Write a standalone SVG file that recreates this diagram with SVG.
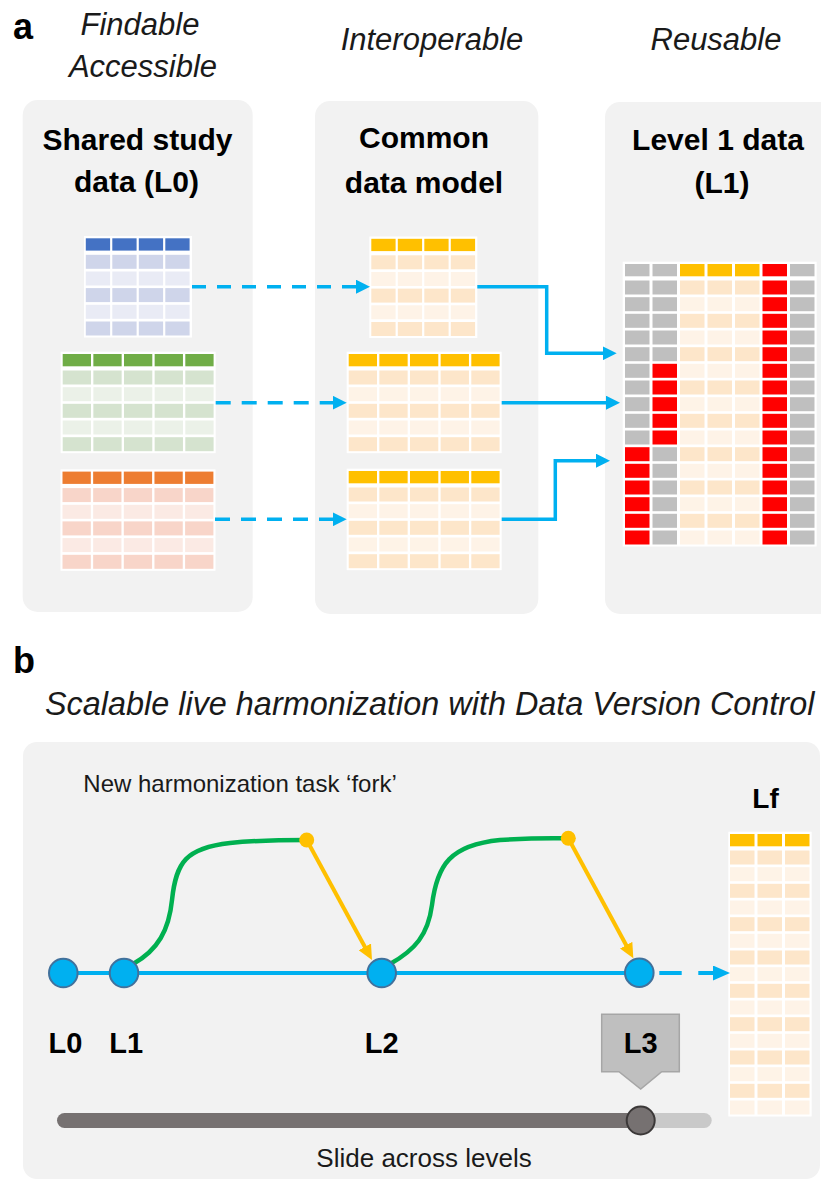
<svg xmlns="http://www.w3.org/2000/svg" xmlns:xlink="http://www.w3.org/1999/xlink" width="821" height="1182" viewBox="0 0 821 1182">
<style>
text{font-family:"Liberation Sans",Arial,sans-serif}
.lbl{font-weight:bold;font-size:36px;fill:#000}
.it{font-style:italic;font-size:31px;fill:#1a1a1a;text-anchor:middle}
.tt{font-weight:bold;font-size:30px;fill:#000;text-anchor:middle}
.lv{font-weight:bold;font-size:29px;fill:#000;text-anchor:middle}
.panel{fill:#f2f2f2}
.tbl{fill:#fff}
.dash{fill:none;stroke:#00b0f0;stroke-width:3.5}
.solid{fill:none;stroke:#00b0f0;stroke-width:3.5}
.grn{fill:none;stroke:#00b050;stroke-width:4.5}
.yl{fill:none;stroke:#ffc000;stroke-width:4}
.node{fill:#00b0f0;stroke:#41719c;stroke-width:2}
</style>
<defs>
<marker id="ab" viewBox="0 0 14 14" refX="6" refY="7" markerWidth="14" markerHeight="14" markerUnits="userSpaceOnUse" orient="auto"><path d="M0,0 L14,7 L0,14 Z" fill="#00b0f0"/></marker>
<marker id="ab2" viewBox="0 0 17 15" refX="9" refY="7.5" markerWidth="17" markerHeight="15" markerUnits="userSpaceOnUse" orient="auto"><path d="M0,0 L17,7.5 L0,15 Z" fill="#00b0f0"/></marker>
<marker id="ay" viewBox="0 0 15 14" refX="7" refY="7" markerWidth="15" markerHeight="14" markerUnits="userSpaceOnUse" orient="auto"><path d="M0,0 L15,7 L0,14 Z" fill="#ffc000"/></marker>
<g id="h4"><rect width="24.3" height="12.3"/><rect x="26.5" width="24.3" height="12.3"/><rect x="53" width="24.3" height="12.3"/><rect x="79.5" width="24.3" height="12.3"/></g>
<g id="d4"><rect width="24.3" height="14"/><rect x="26.5" width="24.3" height="14"/><rect x="53" width="24.3" height="14"/><rect x="79.5" width="24.3" height="14"/></g>
<g id="h5"><rect width="28.3" height="12.3"/><rect x="30.65" width="28.3" height="12.3"/><rect x="61.3" width="28.3" height="12.3"/><rect x="91.95" width="28.3" height="12.3"/><rect x="122.6" width="28.3" height="12.3"/></g>
<g id="d5"><rect width="28.3" height="14"/><rect x="30.65" width="28.3" height="14"/><rect x="61.3" width="28.3" height="14"/><rect x="91.95" width="28.3" height="14"/><rect x="122.6" width="28.3" height="14"/></g>
<g id="h3"><rect width="24.5" height="12.3"/><rect x="27.5" width="24.5" height="12.3"/><rect x="55" width="24.5" height="12.3"/></g>
<g id="d3"><rect width="24.5" height="14"/><rect x="27.5" width="24.5" height="14"/><rect x="55" width="24.5" height="14"/></g>
<g id="ra"><rect width="24.5" height="14" fill="#bfbfbf"/><rect x="27.5" width="24.5" height="14" fill="#bfbfbf"/><rect x="55" width="24.5" height="14"/><rect x="82.5" width="24.5" height="14"/><rect x="110" width="24.5" height="14"/><rect x="137.5" width="24.5" height="14" fill="#ff0000"/><rect x="165" width="24.5" height="14" fill="#bfbfbf"/></g>
<g id="rb"><rect width="24.5" height="14" fill="#bfbfbf"/><rect x="27.5" width="24.5" height="14" fill="#ff0000"/><rect x="55" width="24.5" height="14"/><rect x="82.5" width="24.5" height="14"/><rect x="110" width="24.5" height="14"/><rect x="137.5" width="24.5" height="14" fill="#ff0000"/><rect x="165" width="24.5" height="14" fill="#bfbfbf"/></g>
<g id="rc"><rect width="24.5" height="14" fill="#ff0000"/><rect x="27.5" width="24.5" height="14" fill="#bfbfbf"/><rect x="55" width="24.5" height="14"/><rect x="82.5" width="24.5" height="14"/><rect x="110" width="24.5" height="14"/><rect x="137.5" width="24.5" height="14" fill="#ff0000"/><rect x="165" width="24.5" height="14" fill="#bfbfbf"/></g>
</defs>

<rect width="821" height="1182" fill="#fff"/>

<!-- Panel a headings -->
<g id="label-a"><text class="lbl" x="13" y="39">a</text></g>
<g id="heading-fa"><text class="it" x="140" y="35">Findable</text><text class="it" x="143" y="77">Accessible</text></g>
<g id="heading-i"><text class="it" x="432" y="50">Interoperable</text></g>
<g id="heading-r"><text class="it" x="716" y="50">Reusable</text></g>

<!-- Panels -->
<g id="panel-l0">
<rect class="panel" x="22.7" y="100" width="230" height="512" rx="15"/>
<text class="tt" x="137.5" y="150">Shared study</text>
<text class="tt" x="136.5" y="192">data (L0)</text>
</g>
<g id="panel-cdm">
<rect class="panel" x="315" y="101" width="223.3" height="513" rx="15"/>
<text class="tt" x="424" y="148">Common</text>
<text class="tt" x="424" y="193">data model</text>
</g>
<g id="panel-l1">
<rect class="panel" x="605" y="102" width="240" height="512" rx="15"/>
<text class="tt" x="718" y="150">Level 1 data</text>
<text class="tt" x="722" y="193">(L1)</text>
</g>

<!-- Source tables -->
<g id="table-blue">
<rect class="tbl" x="84" y="236" width="108" height="101.5"/>
<use href="#h4" x="85.8" y="238.3" fill="#4472c4"/>
<use href="#d4" x="85.8" y="254.8" fill="#cfd5ea"/>
<use href="#d4" x="85.8" y="271.5" fill="#e9ebf5"/>
<use href="#d4" x="85.8" y="288.1" fill="#cfd5ea"/>
<use href="#d4" x="85.8" y="304.8" fill="#e9ebf5"/>
<use href="#d4" x="85.8" y="321.5" fill="#cfd5ea"/>
</g>
<g id="table-green">
<rect class="tbl" x="60.7" y="351.7" width="155" height="101.5"/>
<use href="#h5" x="62.7" y="354" fill="#70ad47"/>
<use href="#d5" x="62.7" y="370.5" fill="#d5e3cf"/>
<use href="#d5" x="62.7" y="387.2" fill="#ebf1e8"/>
<use href="#d5" x="62.7" y="403.8" fill="#d5e3cf"/>
<use href="#d5" x="62.7" y="420.5" fill="#ebf1e8"/>
<use href="#d5" x="62.7" y="437.2" fill="#d5e3cf"/>
</g>
<g id="table-orange">
<rect class="tbl" x="60.5" y="469.3" width="155" height="101.5"/>
<use href="#h5" x="62.5" y="471.6" fill="#ed7d31"/>
<use href="#d5" x="62.5" y="488.1" fill="#f8d5c9"/>
<use href="#d5" x="62.5" y="504.8" fill="#fbeae4"/>
<use href="#d5" x="62.5" y="521.4" fill="#f8d5c9"/>
<use href="#d5" x="62.5" y="538.1" fill="#fbeae4"/>
<use href="#d5" x="62.5" y="554.8" fill="#f8d5c9"/>
</g>

<!-- CDM tables -->
<g id="table-cdm-1">
<rect class="tbl" x="369.3" y="236.5" width="108" height="101.5"/>
<use href="#h4" x="371.3" y="238.8" fill="#ffc000"/>
<use href="#d4" x="371.3" y="255.3" fill="#fde6ca"/>
<use href="#d4" x="371.3" y="272" fill="#fef3e7"/>
<use href="#d4" x="371.3" y="288.6" fill="#fde6ca"/>
<use href="#d4" x="371.3" y="305.3" fill="#fef3e7"/>
<use href="#d4" x="371.3" y="322" fill="#fde6ca"/>
</g>
<g id="table-cdm-2">
<rect class="tbl" x="346.7" y="351.7" width="155" height="101.5"/>
<use href="#h5" x="348.7" y="354" fill="#ffc000"/>
<use href="#d5" x="348.7" y="370.5" fill="#fde6ca"/>
<use href="#d5" x="348.7" y="387.2" fill="#fef3e7"/>
<use href="#d5" x="348.7" y="403.8" fill="#fde6ca"/>
<use href="#d5" x="348.7" y="420.5" fill="#fef3e7"/>
<use href="#d5" x="348.7" y="437.2" fill="#fde6ca"/>
</g>
<g id="table-cdm-3">
<rect class="tbl" x="346.7" y="468.7" width="155" height="101.5"/>
<use href="#h5" x="348.7" y="471" fill="#ffc000"/>
<use href="#d5" x="348.7" y="487.5" fill="#fde6ca"/>
<use href="#d5" x="348.7" y="504.2" fill="#fef3e7"/>
<use href="#d5" x="348.7" y="520.8" fill="#fde6ca"/>
<use href="#d5" x="348.7" y="537.5" fill="#fef3e7"/>
<use href="#d5" x="348.7" y="554.2" fill="#fde6ca"/>
</g>

<!-- L1 table -->
<g id="table-l1">
<rect class="tbl" x="622.7" y="261.7" width="194" height="284.8"/>
<rect x="625" y="264" width="24.5" height="12.3" fill="#bfbfbf"/>
<rect x="652.5" y="264" width="24.5" height="12.3" fill="#bfbfbf"/>
<rect x="680" y="264" width="24.5" height="12.3" fill="#ffc000"/>
<rect x="707.5" y="264" width="24.5" height="12.3" fill="#ffc000"/>
<rect x="735" y="264" width="24.5" height="12.3" fill="#ffc000"/>
<rect x="762.5" y="264" width="24.5" height="12.3" fill="#ff0000"/>
<rect x="790" y="264" width="24.5" height="12.3" fill="#bfbfbf"/>
<use href="#ra" x="625" y="280.5" fill="#fde6ca"/>
<use href="#ra" x="625" y="297.2" fill="#fef3e7"/>
<use href="#ra" x="625" y="313.8" fill="#fde6ca"/>
<use href="#ra" x="625" y="330.5" fill="#fef3e7"/>
<use href="#ra" x="625" y="347.2" fill="#fde6ca"/>
<use href="#rb" x="625" y="363.8" fill="#fef3e7"/>
<use href="#rb" x="625" y="380.5" fill="#fde6ca"/>
<use href="#rb" x="625" y="397.2" fill="#fef3e7"/>
<use href="#rb" x="625" y="413.8" fill="#fde6ca"/>
<use href="#rb" x="625" y="430.5" fill="#fef3e7"/>
<use href="#rc" x="625" y="447.2" fill="#fde6ca"/>
<use href="#rc" x="625" y="463.8" fill="#fef3e7"/>
<use href="#rc" x="625" y="480.5" fill="#fde6ca"/>
<use href="#rc" x="625" y="497.2" fill="#fef3e7"/>
<use href="#rc" x="625" y="513.8" fill="#fde6ca"/>
<use href="#rc" x="625" y="530.5" fill="#fef3e7"/>
</g>

<!-- Panel b -->
<g id="label-b"><text class="lbl" x="13" y="673">b</text></g>
<g id="title-b"><text x="45" y="715" style="font-style:italic;font-size:32.4px;fill:#1a1a1a">Scalable live harmonization with Data Version Control</text></g>
<g id="panel-b">
<rect class="panel" x="23" y="742" width="797" height="437" rx="14"/>
</g>
<g id="fork-label"><text x="83.3" y="791.5" style="font-size:24px;fill:#1a1a1a">New harmonization task ‘fork’</text></g>

<g id="lf-title"><text x="765.5" y="808" style="font-weight:bold;font-size:28px;fill:#000;text-anchor:middle">Lf</text></g>
<g id="table-lf">
<rect class="tbl" x="728.3" y="831.7" width="83.4" height="284.8"/>
<use href="#h3" x="730" y="834" fill="#ffc000"/>
<use href="#d3" x="730" y="850.5" fill="#fde6ca"/>
<use href="#d3" x="730" y="867.2" fill="#fef3e7"/>
<use href="#d3" x="730" y="883.8" fill="#fde6ca"/>
<use href="#d3" x="730" y="900.5" fill="#fef3e7"/>
<use href="#d3" x="730" y="917.2" fill="#fde6ca"/>
<use href="#d3" x="730" y="933.8" fill="#fef3e7"/>
<use href="#d3" x="730" y="950.5" fill="#fde6ca"/>
<use href="#d3" x="730" y="967.2" fill="#fef3e7"/>
<use href="#d3" x="730" y="983.8" fill="#fde6ca"/>
<use href="#d3" x="730" y="1000.5" fill="#fef3e7"/>
<use href="#d3" x="730" y="1017.2" fill="#fde6ca"/>
<use href="#d3" x="730" y="1033.8" fill="#fef3e7"/>
<use href="#d3" x="730" y="1050.5" fill="#fde6ca"/>
<use href="#d3" x="730" y="1067.2" fill="#fef3e7"/>
<use href="#d3" x="730" y="1083.8" fill="#fde6ca"/>
<use href="#d3" x="730" y="1100.5" fill="#fef3e7"/>
</g>

<!-- Connectors -->
<g id="connectors">
<path class="dash" d="M192 286.7 H362" stroke-dasharray="14 11" marker-end="url(#ab)"/>
<path class="dash" d="M215.7 402.7 H338.7" stroke-dasharray="15 11" marker-end="url(#ab)"/>
<path class="dash" d="M215 519.3 H338.7" stroke-dasharray="15 11" marker-end="url(#ab)"/>
<path class="solid" d="M477.3 286.7 H546.7 V353.3 H608.7" marker-end="url(#ab)"/>
<path class="solid" d="M501.7 402.7 H612" marker-end="url(#ab)"/>
<path class="solid" d="M501.7 519.3 H555.3 V460.7 H602" marker-end="url(#ab)"/>
<path d="M63.3 973 H639.3" fill="none" stroke="#00b0f0" stroke-width="4"/>
<path d="M659.3 973 H722" fill="none" stroke="#00b0f0" stroke-width="4" stroke-dasharray="22.4 16.6" marker-end="url(#ab2)"/>
<path class="grn" d="M133 964 C158 950 169 930 172 900 C176 862 186 848 230 843 C260 840 290 840 306.7 840"/>
<path class="grn" d="M390 964 C415 950 428 935 432 905 C437 865 450 845 500 840 C530 838 555 838 568.3 838.3"/>
<path class="yl" d="M306.7 840 L368.2 953" marker-end="url(#ay)"/>
<path class="yl" d="M568.3 838.3 L629.5 951.3" marker-end="url(#ay)"/>
</g>

<g id="fork-dot-1"><circle cx="306.7" cy="840" r="7.5" fill="#ffc000"/></g>
<g id="fork-dot-2"><circle cx="568.3" cy="838.3" r="7.5" fill="#ffc000"/></g>

<g id="node-l0"><circle class="node" cx="63.3" cy="973" r="14.3"/><text class="lv" x="65.5" y="1053">L0</text></g>
<g id="node-l1"><circle class="node" cx="124" cy="973" r="14.3"/><text class="lv" x="126.2" y="1053">L1</text></g>
<g id="node-l2"><circle class="node" cx="381.7" cy="973" r="14.3"/><text class="lv" x="381.7" y="1053">L2</text></g>
<g id="node-l3"><circle class="node" cx="639.3" cy="972.7" r="14.3"/></g>

<g id="callout-l3">
<path d="M601.7 1014.3 H679.3 V1071.7 H661.7 L640.7 1089 L619 1071.7 H601.7 Z" fill="#bfbfbf" stroke="#a6a6a6" stroke-width="1.5"/>
<text class="lv" x="640.7" y="1053">L3</text>
</g>

<g id="slider">
<rect x="600" y="1113" width="111.7" height="15" rx="7.5" fill="#c9c9c9"/>
<rect x="57" y="1113" width="583" height="15" rx="7.5" fill="#767171"/>
<circle cx="640.7" cy="1120.5" r="14" fill="#767171" stroke="#3b3838" stroke-width="2"/>
<text x="424" y="1166.5" style="font-size:26px;fill:#1a1a1a;text-anchor:middle">Slide across levels</text>
</g>
</svg>
